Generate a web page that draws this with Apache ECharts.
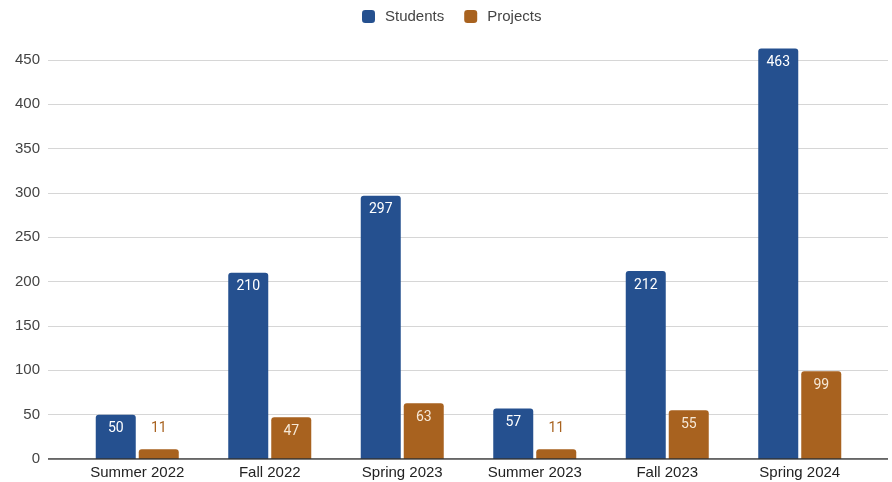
<!DOCTYPE html>
<html><head><meta charset="utf-8">
<script src="https://cdn.jsdelivr.net/npm/echarts@6/dist/echarts.min.js"></script>
<style>html,body{margin:0;padding:0;background:#fff}#c{width:892px;height:482px}</style>
</head><body><div id="c"></div>
<script>
const categories = ['Summer 2022','Fall 2022','Spring 2023','Summer 2023','Fall 2023','Spring 2024'];
const students = [50, 210, 297, 57, 212, 463];
const projects = [11, 47, 63, 11, 55, 99];
const yTicks = [0, 50, 100, 150, 200, 250, 300, 350, 400, 450];

const BLUE = '#25508f', ORANGE = '#a8621f';
const chart = echarts.init(document.getElementById('c'));
const font = 'Liberation Sans, Arial, sans-serif';
const lfont = 'Roboto, Arial, sans-serif';
function projLabel(v){
  return v < 30 ? {show:true, position:'top', distance:14, color:ORANGE, fontSize:14, fontFamily:lfont}
                : {show:true, position:'insideTop', distance:7, color:'#f6e8d6', fontSize:14, fontFamily:lfont};
}
chart.setOption({
  animation:false,
  textStyle:{fontFamily:font},
  legend:{top:4, left:357, itemWidth:13, itemHeight:13, itemGap:20,
    icon:'roundRect', textStyle:{fontSize:15, color:'#444', fontFamily:font, padding:[0,0,0,5]},
    data:['Students','Projects']},
  grid:[
    {left:71, right:26, top:60, bottom:23},
    {left:48, right:4, top:60, bottom:23}
  ],
  xAxis:[
    {type:'category', gridIndex:0, data:categories,
     axisLine:{show:false}, axisTick:{show:false},
     axisLabel:{color:'#222', fontSize:15, margin:6, fontFamily:font}},
    {type:'value', gridIndex:1, min:0, max:1, show:false}
  ],
  yAxis:[
    {type:'value', gridIndex:0, min:0, max:450, interval:50, show:false, splitLine:{show:false}},
    {type:'value', gridIndex:1, min:0, max:450, interval:50,
     axisLine:{show:false}, axisTick:{show:false},
     axisLabel:{color:'#444', fontSize:15, margin:8, fontFamily:font},
     splitLine:{lineStyle:{color:'#d6d6d6', width:1}}}
  ],
  series:[
    {name:'Students', type:'bar', xAxisIndex:0, yAxisIndex:0, data:students,
     barWidth:40, barGap:'7.5%', clip:false,
     itemStyle:{color:BLUE, borderRadius:[3,3,0,0]},
     label:{show:true, position:'insideTop', distance:7, color:'#fff', fontSize:14, fontFamily:lfont}},
    {name:'Projects', type:'bar', xAxisIndex:0, yAxisIndex:0, barWidth:40, clip:false,
     itemStyle:{color:ORANGE, borderRadius:[3,3,0,0]},
     data: projects.map(v => ({value:v, label:projLabel(v)}))},
    {type:'line', xAxisIndex:1, yAxisIndex:1, data:[[0,0],[1,0]], symbol:'none',
     lineStyle:{color:'#333', width:1.5}, silent:true, z:5}
  ]
});
</script></body></html>
